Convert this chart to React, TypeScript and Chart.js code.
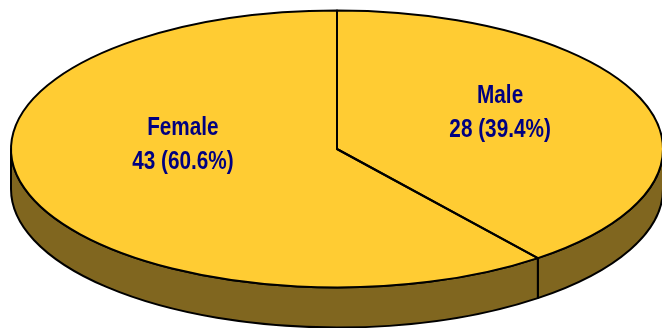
import React, { useEffect, useRef } from "react";
import { Chart, registerables } from "chart.js";

Chart.register(...registerables);

const categories = ["Male", "Female"];
const counts = [28, 43];
const percentLabels = ["39.4%", "60.6%"];

const TOP_COLOR = "#FFCC33";
const SIDE_COLOR = "#80661F";
const LINE_COLOR = "#000000";
const TEXT_COLOR = "#000080";
const FONT = 'bold 25px "Liberation Sans Narrow", "Liberation Sans", sans-serif';
const TEXT_SQUEEZE = 0.83;
const LINE_WIDTH = 2;

// Projection of the library's round pie onto the tilted ellipse
const CENTER_X = 337;
const CENTER_Y = 149;
const RADIUS_X = 326;
const RADIUS_Y = 138.5;
const DEPTH = 40;
const LABEL_SHIFT = [
  { x: 9, y: -13.5 },
  { x: 0, y: -26.5 },
];

function project(ctx: CanvasRenderingContext2D, arc: any) {
  ctx.translate(CENTER_X, CENTER_Y);
  ctx.scale(RADIUS_X / arc.outerRadius, RADIUS_Y / arc.outerRadius);
  ctx.translate(-arc.x, -arc.y);
}

function narrowText(ctx: CanvasRenderingContext2D, text: string, x: number, y: number) {
  ctx.save();
  ctx.translate(x, y);
  ctx.scale(TEXT_SQUEEZE, 1);
  ctx.fillText(text, 0, 0);
  ctx.restore();
}

const tiltedPie = {
  id: "tiltedPie",
  beforeDatasetDraw(chart: any, args: any) {
    const ctx: CanvasRenderingContext2D = chart.ctx;
    ctx.save();
    ctx.lineWidth = LINE_WIDTH;
    ctx.strokeStyle = LINE_COLOR;
    ctx.lineJoin = "round";
    args.meta.data.forEach((arc: any) => {
      const from = Math.max(arc.startAngle, 0);
      const to = Math.min(arc.endAngle, Math.PI);
      if (to <= from) return;
      ctx.beginPath();
      ctx.ellipse(CENTER_X, CENTER_Y, RADIUS_X, RADIUS_Y, 0, from, to);
      ctx.ellipse(CENTER_X, CENTER_Y + DEPTH, RADIUS_X, RADIUS_Y, 0, to, from, true);
      ctx.closePath();
      ctx.fillStyle = SIDE_COLOR;
      ctx.fill();
      ctx.stroke();
    });
    ctx.restore();
    ctx.save();
    project(ctx, args.meta.data[0]);
  },
  afterDatasetDraw(chart: any, args: any) {
    const ctx: CanvasRenderingContext2D = chart.ctx;
    ctx.restore();
    args.meta.data.forEach((arc: any) => {
      ctx.save();
      project(ctx, arc);
      ctx.beginPath();
      ctx.moveTo(arc.x, arc.y);
      ctx.arc(arc.x, arc.y, arc.outerRadius, arc.startAngle, arc.endAngle);
      ctx.closePath();
      ctx.restore();
      ctx.save();
      ctx.lineWidth = LINE_WIDTH;
      ctx.strokeStyle = LINE_COLOR;
      ctx.lineJoin = "round";
      ctx.stroke();
      ctx.restore();
    });
  },
  afterDatasetsDraw(chart: any) {
    const ctx: CanvasRenderingContext2D = chart.ctx;
    const meta = chart.getDatasetMeta(0);
    ctx.save();
    ctx.font = FONT;
    ctx.fillStyle = TEXT_COLOR;
    ctx.textAlign = "center";
    ctx.textBaseline = "middle";
    meta.data.forEach((arc: any, i: number) => {
      const c = arc.getCenterPoint();
      const x = CENTER_X + ((c.x - arc.x) * RADIUS_X) / arc.outerRadius + LABEL_SHIFT[i].x;
      const y = CENTER_Y + ((c.y - arc.y) * RADIUS_Y) / arc.outerRadius + LABEL_SHIFT[i].y;
      narrowText(ctx, categories[i], x, y - 17);
      narrowText(ctx, `${counts[i]} (${percentLabels[i]})`, x, y + 17);
    });
    ctx.restore();
  },
};

export default function App() {
  const ref = useRef<HTMLCanvasElement>(null);
  useEffect(() => {
    document.body.style.margin = "0";
    document.body.style.background = "#ffffff";
    const chart = new Chart(ref.current as HTMLCanvasElement, {
      type: "pie",
      data: {
        labels: categories,
        datasets: [
          {
            data: counts,
            backgroundColor: TOP_COLOR,
            borderWidth: 0,
            clip: false,
          } as any,
        ],
      },
      options: {
        responsive: false,
        animation: false,
        plugins: { legend: { display: false }, tooltip: { enabled: false } },
      },
      plugins: [tiltedPie],
    });
    return () => chart.destroy();
  }, []);
  return <canvas ref={ref} width={662} height={328} style={{ display: "block" }} />;
}
